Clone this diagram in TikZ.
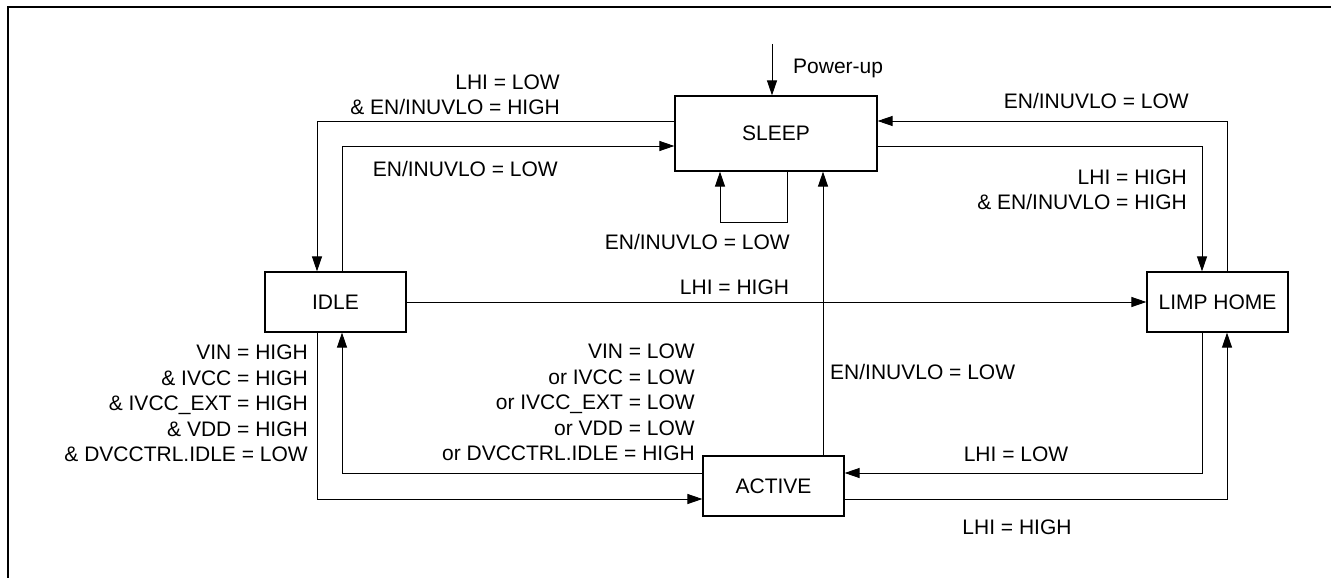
\documentclass[tikz,border=0pt]{standalone}
\usepackage{fontspec}
\setmainfont{Liberation Sans}
\usetikzlibrary{arrows.meta}
\begin{document}
\begin{tikzpicture}[x=1pt,y=-1pt,
  font=\fontsize{21}{25.5}\selectfont,
  state/.style={draw, line width=1.2pt, minimum width=141pt, minimum height=60pt, inner sep=0pt},
  conn/.style={line width=1pt, -{Triangle[length=15pt,width=10pt]}},
  lbl/.style={inner sep=0pt},
]
\useasboundingbox (0,0) rectangle (1331,578);
\draw[line width=1.5pt] (1331,7) -- (8,7) -- (8,578);

\node[state, minimum width=202pt, minimum height=75pt] (sleep) at (776,133.5) {SLEEP};
\node[state] (idle) at (335.5,302) {IDLE};
\node[state] (limp) at (1217.5,302) {LIMP HOME};
\node[state] (active) at (773.5,486) {ACTIVE};

\coordinate (pu) at (772,44);
\coordinate (loopa) at (787,222);
\coordinate (loopb) at (720,222);

\draw[conn] (sleep.west |- 0,121) -| (317,0 |- idle.north);
\draw[conn] (342,0 |- idle.north) |- (sleep.west |- 0,146);
\draw[conn] (pu) -- (pu |- sleep.north);
\draw[conn] (loopa |- sleep.south) -- (loopa) -- (loopb) -- (loopb |- sleep.south);
\draw[conn] (823,0 |- active.north) -- (823,0 |- sleep.south);
\draw[conn] (1227,0 |- limp.north) |- (sleep.east |- 0,121);
\draw[conn] (sleep.east |- 0,146) -| (1202,0 |- limp.north);
\draw[conn] (idle.east) -- (limp.west);
\draw[conn] (317,0 |- idle.south) |- (active.west |- 0,499);
\draw[conn] (active.west |- 0,473) -| (342,0 |- idle.south);
\draw[conn] (1202,0 |- limp.south) |- (active.east |- 0,473);
\draw[conn] (active.east |- 0,499) -| (1227,0 |- limp.south);

\node[lbl, anchor=base east, align=right] (l1) at (560,114.5) {LHI = LOW\\\& EN/INUVLO = HIGH};
\node[lbl, anchor=base east] (l2) at (558,176.5) {EN/INUVLO = LOW};
\node[lbl, anchor=base west] (l3) at (793,73.5) {Power-up};
\node[lbl, anchor=base east] (l4) at (790,249.5) {EN/INUVLO = LOW};
\node[lbl, anchor=base east] (l5) at (1189,108.5) {EN/INUVLO = LOW};
\node[lbl, anchor=base east, align=right] (l6) at (1187,209.5) {LHI = HIGH\\\& EN/INUVLO = HIGH};
\node[lbl, anchor=base] (l7) at (734.5,294.5) {LHI = HIGH};
\node[lbl, anchor=base east, align=right] (l8) at (308,461.5) {VIN = HIGH\\\& IVCC = HIGH\\\& IVCC\_EXT = HIGH\\\& VDD = HIGH\\\& DVCCTRL.IDLE = LOW};
\node[lbl, anchor=base east, align=right] (l9) at (695,460.5) {VIN = LOW\\or IVCC = LOW\\or IVCC\_EXT = LOW\\or VDD = LOW\\or DVCCTRL.IDLE = HIGH};
\node[lbl, anchor=base west] (l10) at (830,379.5) {EN/INUVLO = LOW};
\node[lbl, anchor=base] (l11) at (1016,461.5) {LHI = LOW};
\node[lbl, anchor=base] (l12) at (1017,534.5) {LHI = HIGH};
\end{tikzpicture}
\end{document}
